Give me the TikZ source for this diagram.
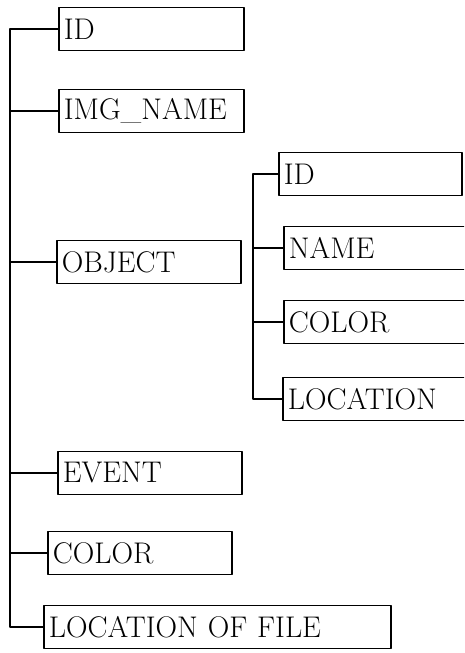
\documentclass[tikz,border=0pt]{standalone}
\usepackage{fontspec}
\begin{document}
\begin{tikzpicture}[x=0.02cm, y=-0.02cm, line width=1pt, line join=round,
    font=\fontsize{17}{20}\selectfont,
    fieldbox/.style={draw, anchor=west, minimum height=0.86cm, inner xsep=0.1cm, inner ysep=0pt, text width=#1, align=left}]
    \useasboundingbox (0,0) rectangle (464,653);
    \clip (0,0) rectangle (464,653);
    % main record
    \node[fieldbox=3.5cm] (id) at (58,29) {ID};
    \node[fieldbox=3.5cm] (imgname) at (58,111) {IMG\_NAME};
    \node[fieldbox=3.48cm] (object) at (56,262) {OBJECT};
    \node[fieldbox=3.48cm] (event) at (57,473) {EVENT};
    \node[fieldbox=3.48cm] (colour) at (47,553) {COLOR};
    \node[fieldbox=6.74cm] (locfile) at (43,627) {LOCATION OF FILE};
    % object fields
    \node[fieldbox=3.46cm] (objid) at (278,174) {ID};
    \node[fieldbox=3.6cm] (objname) at (283,248) {NAME};
    \node[fieldbox=3.6cm] (objcolour) at (283,322) {COLOR};
    \node[fieldbox=3.6cm] (objloc) at (282,399) {LOCATION};
    \coordinate (trunk) at (10,0);
    \coordinate (subtrunk) at (253,0);
    \draw (id.west) -- (id.west -| trunk) -- (locfile.west -| trunk) -- (locfile.west);
    \foreach \n in {imgname,object,event,colour}
        \draw (\n.west) -- (\n.west -| trunk);
    \draw (objid.west) -- (objid.west -| subtrunk) -- (objloc.west -| subtrunk) -- (objloc.west);
    \foreach \n in {objname,objcolour}
        \draw (\n.west) -- (\n.west -| subtrunk);
\end{tikzpicture}
\end{document}
